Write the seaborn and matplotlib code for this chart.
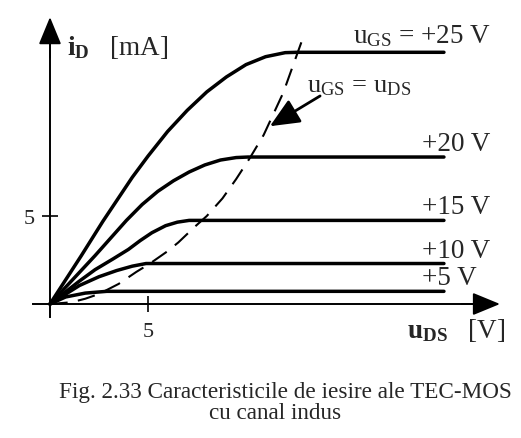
import matplotlib
matplotlib.use("Agg")
import matplotlib.pyplot as plt
import seaborn as sns
import pandas as pd

# output characteristics (u_DS in V, i_D in mA)
ugs_levels = [5, 10, 15, 20, 25]
ugs_labels = ["+5 V", "+10 V", "+15 V", "+20 V", r"$\mathrm{u}_{\mathrm{GS}}$ = +25 V"]

u_5 = [0, 0.8, 1.8, 2.9, 20.1]
i_5 = [0, 0.4, 0.62, 0.72, 0.72]

u_10 = [0, 1.5, 2.5, 3.4, 4.2, 4.9, 20.1]
i_10 = [0, 1.05, 1.55, 1.9, 2.15, 2.3, 2.3]

u_15 = [0, 1.5, 2.3, 3.2, 4.0, 4.6, 5.2, 5.9, 6.5, 7.1, 20.1]
i_15 = [0, 1.3, 1.95, 2.55, 3.1, 3.6, 4.05, 4.45, 4.65, 4.75, 4.75]

u_20 = [0, 2.3, 3.9, 4.7, 5.5, 6.3, 7.1, 7.9, 8.7, 9.5, 10.1, 20.1]
i_20 = [0, 2.75, 4.75, 5.65, 6.4, 7.0, 7.5, 7.9, 8.18, 8.32, 8.35, 8.35]

u_25 = [0, 1.6, 2.7, 4.2, 5.0, 6.0, 7.0, 8.0, 9.0, 10.0, 11.0, 12.0, 12.6, 20.1]
i_25 = [0, 2.75, 4.7, 7.2, 8.4, 9.8, 11.0, 12.05, 12.9, 13.6, 14.05, 14.28, 14.3, 14.3]

# boundary u_GS = u_DS (dashed)
bound_u = [0, 1.1, 1.8, 2.5, 3.5, 4.4, 5.1, 6.0, 6.55, 7.4, 8.0, 8.8, 9.5, 10.2, 10.9, 11.9, 12.9]
bound_i = [0, 0.1, 0.3, 0.57, 1.14, 1.82, 2.3, 3.0, 3.5, 4.4, 5.0, 6.0, 7.1, 8.3, 9.6, 12.0, 15.1]

x_ticks = [5]
y_ticks = [5]

curves_u = [u_5, u_10, u_15, u_20, u_25]
curves_i = [i_5, i_10, i_15, i_20, i_25]
df = pd.concat([pd.DataFrame({"u_ds": u, "i_d": i, "ugs": g})
                for u, i, g in zip(curves_u, curves_i, ugs_levels)])

sns.set_style("white")
plt.rcParams["font.family"] = ["Liberation Serif", "DejaVu Serif"]
plt.rcParams["mathtext.fontset"] = "custom"
plt.rcParams["mathtext.rm"] = "Liberation Serif"
plt.rcParams["mathtext.it"] = "Liberation Serif:italic"
plt.rcParams["mathtext.bf"] = "Liberation Serif:bold"

fig = plt.figure(figsize=(5.21, 4.39), dpi=100)
ax = fig.add_axes([20 / 521, 109 / 439, 490 / 521, 320 / 439])

sns.lineplot(data=df, x="u_ds", y="i_d", units="ugs", estimator=None, sort=False,
             color="black", lw=2.5, ax=ax, legend=False)
bl = sns.lineplot(x=bound_u, y=bound_i, sort=False, color="black", lw=1.5, ax=ax)
bl.lines[-1].set_dashes((8.5, 5))

ax.set_xlim(-1.53, 23.47)
ax.set_ylim(-1.42, 16.76)
ax.set_xlabel("")
ax.set_ylabel("")

# axes through the origin, with arrows
for s in ["top", "right"]:
    ax.spines[s].set_visible(False)
ax.spines["left"].set_position(("data", 0))
ax.spines["bottom"].set_position(("data", 0))
ax.spines["left"].set_bounds(-0.74, 15.5)
ax.spines["bottom"].set_bounds(-0.87, 22.0)
for s in ["left", "bottom"]:
    ax.spines[s].set_linewidth(1.4)
    ax.spines[s].set_color("black")
arr = dict(arrowstyle="-|>,head_length=0.85,head_width=0.35", mutation_scale=20,
           color="black", lw=1.4, shrinkA=0, shrinkB=0)
ax.annotate("", xy=(0, 16.3), xytext=(0, 14.0), arrowprops=arr)
ax.annotate("", xy=(22.96, 0), xytext=(21.0, 0), arrowprops=arr)

ax.set_xticks(x_ticks)
ax.set_yticks(y_ticks)
ax.tick_params(direction="inout", length=12, width=1.4, labelsize=16, pad=5,
               bottom=True, left=True)
ax.tick_params(axis="x", pad=7)

# curve labels
for g, lab, u, i in zip(ugs_levels, ugs_labels, curves_u, curves_i):
    if g == 25:
        ax.annotate(lab, xy=(15.45, i[-1]), xytext=(0, 7), textcoords="offset points",
                    fontsize=19.5, va="baseline")
    else:
        ax.annotate(lab, xy=(19.0, i[-1]), xytext=(0, 5), textcoords="offset points",
                    fontsize=19.5, va="baseline")

ax.text(13.1, 12.1, r"$\mathrm{u}_{\mathrm{GS}}\,=\,\mathrm{u}_{\mathrm{DS}}$", fontsize=19,
        va="baseline")
ax.annotate("", xy=(11.22, 10.1), xytext=(13.78, 11.82),
            arrowprops=dict(arrowstyle="-|>,head_length=0.9,head_width=0.4",
                            mutation_scale=20, color="black", lw=2, shrinkA=0, shrinkB=0))

ax.text(0.87, 14.2, r"$\mathbf{i}_{\mathbf{D}}$   [mA]", fontsize=19.5, va="baseline")
ax.text(18.2, -1.88, r"$\mathbf{u}_{\mathbf{DS}}$   [V]", fontsize=19.5, va="baseline")

fig.text(285 / 521, 1 - 398 / 439, "Fig. 2.33 Caracteristicile de iesire ale TEC-MOS",
         ha="center", va="baseline", fontsize=16.7)
fig.text(275 / 521, 1 - 419 / 439, "cu canal indus", ha="center", va="baseline",
         fontsize=16.7)

fig.savefig("out.png", dpi=100)
